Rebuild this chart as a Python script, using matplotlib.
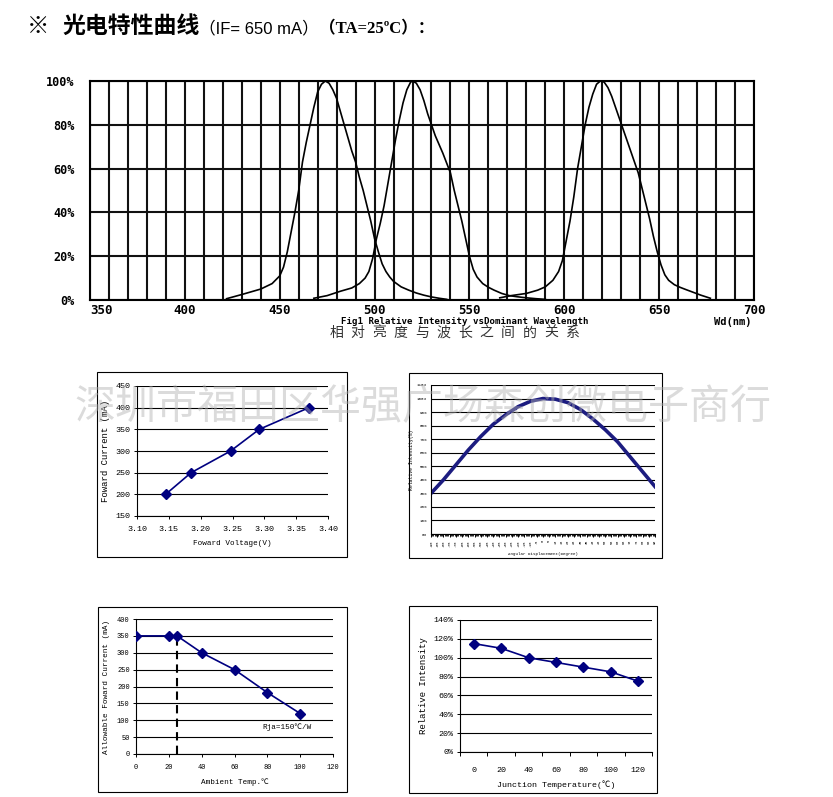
import matplotlib
matplotlib.use('Agg')
import matplotlib.pyplot as plt
from matplotlib.patches import Rectangle
import numpy as np

W, H = 833, 797
CJK = ['Noto Sans CJK SC', 'DejaVu Sans']
MONO = ['Liberation Mono', 'Noto Sans CJK SC']
NAVY = '#000080'

# ---- Fig1: relative intensity vs dominant wavelength ----
blue_nm = [422, 430, 440, 446, 450, 452, 454, 456, 458, 460, 462, 464, 466, 468, 470, 472, 474,
           476, 478, 480, 482, 484, 486, 488, 490, 492, 494, 496, 498, 500, 502, 504, 506, 508,
           510, 514, 518, 522, 526, 530, 534, 538]
blue_pct = [0.6, 2.5, 5, 7.5, 11, 15, 22, 31, 40, 50, 63, 72, 80, 88, 95, 98.5, 100,
            99, 96, 92, 86, 80, 74, 68, 63, 56, 50, 43, 36, 28, 22, 16.5, 13, 10.5,
            8.5, 6, 4.5, 3.2, 2.2, 1.4, 0.8, 0.3]
green_nm = [468, 475, 482, 488, 492, 495, 497, 499, 501, 503, 505, 507, 509, 511, 513, 515, 517,
            519, 520, 522, 524, 526, 528, 530, 532, 534, 536, 538, 540, 542, 544, 546, 548, 550,
            552, 554, 557, 560, 563, 567, 571, 575, 580, 585, 590]
green_pct = [0.8, 2, 4, 5.5, 7.5, 10, 13, 19, 28, 35, 43, 53, 63, 73, 82, 90, 96,
             99.5, 100, 99, 96, 91, 85, 80, 75, 71, 67, 62.5, 58, 50, 43, 36, 28, 20,
             14, 10.5, 7.5, 5.8, 4.5, 3, 2, 1.5, 1, 0.6, 0.3]
red_nm = [566, 572, 580, 586, 590, 594, 597, 599, 601, 603, 605, 607, 609, 611, 613, 615, 617,
          619, 621, 623, 625, 627, 629, 631, 633, 635, 637, 639, 641, 643, 645, 647, 649, 651,
          653, 655, 658, 661, 664, 668, 672, 677]
red_pct = [1, 2, 3, 4.5, 6, 9, 13, 18, 27, 36, 47, 60, 70, 80, 88, 94, 98.5,
           100, 99.5, 97, 93, 88, 83, 78, 73, 68, 63, 58, 51, 44, 37, 29, 22, 16,
           11.5, 9, 7, 5.8, 4.8, 3.5, 2.2, 0.8]
wl_ticks = [350, 400, 450, 500, 550, 600, 650, 700]
pct_ticks = [0, 20, 40, 60, 80, 100]

# ---- forward voltage vs forward current ----
fv_volt = [3.145, 3.185, 3.247, 3.292, 3.37]
fv_curr = [200, 250, 300, 350, 400]
fv_xticks = [3.10, 3.15, 3.20, 3.25, 3.30, 3.35, 3.40]
fv_yticks = [150, 200, 250, 300, 350, 400, 450]

# ---- relative intensity vs angle ----
ang_deg = [-90, -80, -70, -60, -50, -40, -30, -20, -10, 0, 10, 20, 30, 40, 50, 60, 70, 80, 90]
ang_pct = [30, 40, 51, 62, 72, 81, 88, 94, 98, 100, 99.5, 97, 92, 85, 77, 68, 57, 46, 35]
ang_yticks = list(range(0, 111, 10))
ang_xticks = list(range(-90, 91, 5))

# ---- derating ----
amb_temp = [0, 20, 25, 40, 60, 80, 100]
amb_curr = [350, 350, 350, 300, 250, 182, 120]
knee_t, knee_i = 25, 350
amb_xticks = [0, 20, 40, 60, 80, 100, 120]
amb_yticks = [0, 50, 100, 150, 200, 250, 300, 350, 400]

# ---- relative intensity vs junction temp ----
jt_labels = ['0', '20', '40', '60', '80', '100', '120']
jt_pct = [115, 110, 100, 95, 90, 85, 75]
jt_yticks = [0, 20, 40, 60, 80, 100, 120, 140]


def box(l, t, r, b):
    return [l / W, 1 - b / H, (r - l) / W, (b - t) / H]


def frame(l, t, r, b):
    fig.add_artist(Rectangle((l / W, 1 - b / H), (r - l) / W, (b - t) / H,
                             transform=fig.transFigure, fill=False, ec='black', lw=0.8))


def excel_axes(ax):
    ax.spines['top'].set_visible(False)
    ax.spines['right'].set_visible(False)
    for s in ('left', 'bottom'):
        ax.spines[s].set_linewidth(0.8)
    ax.yaxis.grid(True, color='black', lw=0.8)
    ax.set_axisbelow(True)
    ax.tick_params(direction='out', length=2.5, width=0.7, pad=2)


fig = plt.figure(figsize=(W / 100, H / 100), dpi=100)

# title
rend = fig.canvas.get_renderer()
ty = 1 - 33 / H
t = fig.text(27 / W, ty, '※', fontsize=16, fontweight='bold', family=CJK, va='baseline')
t = fig.text(62 / W, ty, '光电特性曲线', fontsize=16.5, fontweight='bold', family=CJK, va='baseline')
x = t.get_window_extent(rend).x1 / W
t = fig.text(x, ty, '（IF= 650 mA）', fontsize=12, family=['Liberation Sans', 'Noto Sans CJK SC'],
             va='baseline')
x = t.get_window_extent(rend).x1 / W
fig.text(x, ty, '（TA=25ºC）：', fontsize=12, fontweight='bold',
         family=['Liberation Serif', 'Noto Sans CJK SC'], va='baseline')

# top chart
ax = fig.add_axes(box(90, 81, 754, 300))
ax.plot(blue_nm, blue_pct, color='black', lw=1.2)
ax.plot(green_nm, green_pct, color='black', lw=1.2)
ax.plot(red_nm, red_pct, color='black', lw=1.2)
ax.set_xlim(350, 700)
ax.set_ylim(0, 100)
ax.set_xticks(wl_ticks)
ax.set_xticks(np.arange(350, 701, 10), minor=True)
ax.set_yticks(pct_ticks)
ax.grid(which='both', color='#111111', lw=1.5)
ax.tick_params(which='both', length=0)
ax.tick_params(axis='y', pad=11)
ax.tick_params(axis='x', pad=3)
ax.set_yticklabels([f'{v}%' for v in pct_ticks], family='DejaVu Sans Mono', fontweight='bold',
                   fontsize=8.5)
ax.set_xticklabels([str(v) for v in wl_ticks], family='DejaVu Sans Mono', fontweight='bold',
                   fontsize=9)
ax.get_xticklabels()[0].set_ha('left')
for s in ax.spines.values():
    s.set_linewidth(1.5)
fig.text(733 / W, 1 - 322 / H, 'Wd(nm)', family='DejaVu Sans Mono', fontweight='bold', fontsize=7.5,
         ha='center', va='center')
fig.text(465 / W, 1 - 322 / H, 'Fig1 Relative Intensity vsDominant Wavelength',
         family='DejaVu Sans Mono', fontweight='bold', fontsize=6.6, ha='center', va='center')
cap = '相对亮度与波长之间的关系'
for i, ch in enumerate(cap):
    fig.text((336 + i * 21.5) / W, 1 - 333 / H, ch, family=CJK, fontsize=10, color='#333333',
             ha='center', va='center')

# chart 1: forward current vs forward voltage
frame(97, 372, 347, 557)
ax1 = fig.add_axes(box(137, 386, 328, 516))
excel_axes(ax1)
ax1.plot(fv_volt, fv_curr, color=NAVY, lw=1.2, marker='D', ms=5)
ax1.set_xlim(3.10, 3.40)
ax1.set_ylim(150, 450)
ax1.set_xticks(fv_xticks)
ax1.set_yticks(fv_yticks)
ax1.set_xticklabels([f'{v:.2f}' for v in fv_xticks], family=MONO, fontsize=6)
ax1.set_yticklabels([str(v) for v in fv_yticks], family=MONO, fontsize=6)
ax1.tick_params(axis='x', pad=5)
ax1.set_xlabel('Foward Voltage(V)', family=MONO, fontsize=5.5, labelpad=5)
ax1.set_ylabel('Foward Current (mA)', family=MONO, fontsize=6.5, labelpad=4)

# chart 2: relative intensity vs angular displacement
frame(409, 373, 662, 558)
ax2 = fig.add_axes(box(431, 385, 655, 534))
excel_axes(ax2)
ax2.plot(ang_deg, ang_pct, color='#1c1c80', lw=2.6)
ax2.set_xlim(-90, 90)
ax2.set_ylim(0, 110)
ax2.set_yticks(ang_yticks)
ax2.set_yticklabels([f'{v}%' for v in ang_yticks], family=MONO, fontsize=3)
ax2.set_xticks(ang_xticks)
ax2.set_xticklabels([str(v) for v in ang_xticks], family=MONO, fontsize=2.6, rotation=90)
ax2.set_xticks(np.arange(-90, 91, 1), minor=True)
ax2.tick_params(axis='x', which='minor', length=1.5, width=0.6)
ax2.tick_params(axis='y', length=0, pad=3)
ax2.set_xlabel('Angular Displacement(Degree)', family=MONO, fontsize=3, labelpad=4)
ax2.set_ylabel('Relative Intensity(%)', family=MONO, fontsize=3.5, labelpad=2)

# chart 3: allowable forward current vs ambient temp
frame(98, 607, 347, 792)
ax3 = fig.add_axes(box(136, 619, 333, 754))
excel_axes(ax3)
ax3.plot(amb_temp, amb_curr, color=NAVY, lw=1.2, marker='D', ms=5, zorder=3)
ax3.plot([knee_t, knee_t], [0, knee_i], color='black', lw=1.5, ls=(0, (4, 2.5)))
ax3.set_xlim(0, 120)
ax3.set_ylim(0, 400)
ax3.set_xticks(amb_xticks)
ax3.set_yticks(amb_yticks)
ax3.set_xticklabels([str(v) for v in amb_xticks], family=MONO, fontsize=5)
ax3.set_yticklabels([str(v) for v in amb_yticks], family=MONO, fontsize=5)
ax3.tick_params(axis='x', pad=5)
ax3.set_xlabel('Ambient Temp.℃', family=MONO, fontsize=5.5, labelpad=5)
ax3.set_ylabel('Allowable Foward Current (mA)', family=MONO, fontsize=5.5, labelpad=5)
ax3.text(77, 80, 'Rja=150℃/W', family=MONO, fontsize=5.5, va='center')

# chart 4: relative intensity vs junction temperature
frame(409, 606, 657, 793)
ax4 = fig.add_axes(box(460, 620, 652, 752))
excel_axes(ax4)
jx = np.arange(len(jt_labels))
ax4.plot(jx, jt_pct, color=NAVY, lw=1.2, marker='D', ms=5)
ax4.set_xlim(-0.5, len(jt_labels) - 0.5)
ax4.set_ylim(0, 140)
ax4.set_yticks(jt_yticks)
ax4.set_yticklabels([f'{v}%' for v in jt_yticks], family=MONO, fontsize=6)
ax4.set_xticks(jx)
ax4.set_xticklabels(jt_labels, family=MONO, fontsize=6)
ax4.set_xticks(np.arange(-0.5, len(jt_labels), 1), minor=True)
ax4.tick_params(axis='x', which='major', length=0, pad=11)
ax4.tick_params(axis='x', which='minor', length=3, width=0.7)
ax4.set_xlabel('Junction Temperature(℃)', family=MONO, fontsize=6, labelpad=4)
ax4.set_ylabel('Relative Intensity', family=MONO, fontsize=6.5, labelpad=4)

# watermark
fig.text((75 + 770) / 2 / W, 1 - 408 / H, '深圳市福田区华强广场森创微电子商行', family=CJK,
         fontweight='light', fontsize=29.5, color='#b0b0b0', alpha=0.45, ha='center', va='center',
         zorder=10)

fig.savefig('out.png', dpi=100)
